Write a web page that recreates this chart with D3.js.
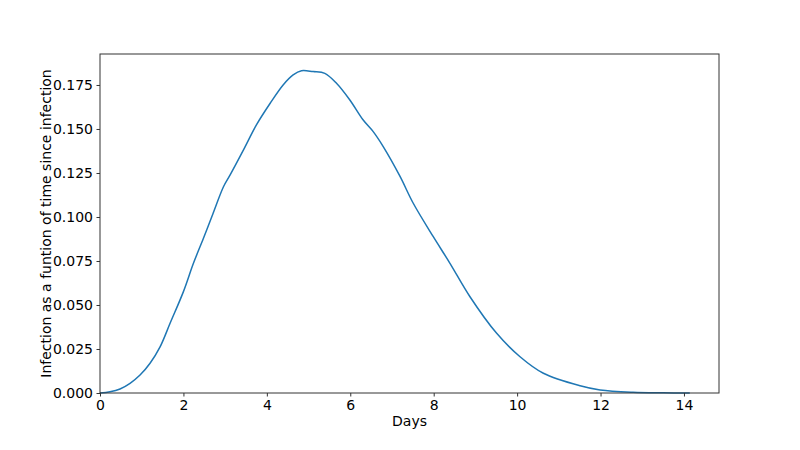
<!DOCTYPE html>
<html><head><meta charset="utf-8">
<script src="https://cdn.jsdelivr.net/npm/d3@7"></script>
<style>body{margin:0;background:#fff}svg{display:block}text{font-family:"DejaVu Sans",sans-serif}</style>
</head><body><svg id="c" width="800" height="450"></svg>
<script>
const days = [0,0.24,0.48,0.72,0.96,1.2,1.44,1.68,2.0,2.24,2.48,2.71,2.96,3.12,3.44,3.75,4.08,4.39,4.63,4.83,5.11,5.39,5.67,5.99,6.31,6.55,6.79,7.19,7.51,7.99,8.39,8.87,9.51,10.07,10.63,11.51,11.99,12.78,13.5,14.14];
const infection = [0,0.0007,0.0023,0.0055,0.0102,0.0169,0.0262,0.0396,0.0576,0.0737,0.0879,0.102,0.1172,0.1239,0.1381,0.1523,0.1646,0.175,0.1807,0.1831,0.1826,0.1816,0.176,0.1665,0.1551,0.1485,0.14,0.1232,0.1078,0.0888,0.0737,0.0547,0.0339,0.0206,0.0112,0.0041,0.0017,0.0004,0.0001,0];
const xTicks = [0,2,4,6,8,10,12,14];
const yTicks = [0,0.025,0.05,0.075,0.1,0.125,0.15,0.175];

const svg = d3.select("#c");
const L=100,R=719,T=54,B=393;
const x = d3.scaleLinear().domain([0,14.84]).range([L,R]);
const y = d3.scaleLinear().domain([0,0.1926]).range([B,T]);

const line = d3.line().x((d,i)=>x(days[i])).y(d=>y(d)).curve(d3.curveCatmullRom.alpha(0.5));
svg.append("path").datum(infection).attr("d",line).attr("fill","none").attr("stroke","#1f77b4").attr("stroke-width",1.5);

const xa = svg.append("g").attr("transform",`translate(0,${B})`)
  .call(d3.axisBottom(x).tickValues(xTicks).tickFormat(d3.format("d")).tickSize(3.5).tickPadding(3.5));
const ya = svg.append("g").attr("transform",`translate(${L},0)`)
  .call(d3.axisLeft(y).tickValues(yTicks).tickFormat(d3.format(".3f")).tickSize(3.5).tickPadding(3.5));
[xa,ya].forEach(g=>{g.select(".domain").remove();g.selectAll("text").attr("font-size",14).attr("fill","#000").attr("font-family","DejaVu Sans");g.selectAll("line").attr("stroke","#333");});

svg.append("rect").attr("x",L).attr("y",T).attr("width",R-L).attr("height",B-T).attr("fill","none").attr("stroke","#333").attr("stroke-width",1);

svg.append("text").attr("x",(L+R)/2).attr("y",426).attr("text-anchor","middle").attr("font-size",14).text("Days");
svg.append("text").attr("transform",`translate(51,${(T+B)/2}) rotate(-90)`).attr("text-anchor","middle").attr("font-size",14).text("Infection as a funtion of time since infection");
</script></body></html>
